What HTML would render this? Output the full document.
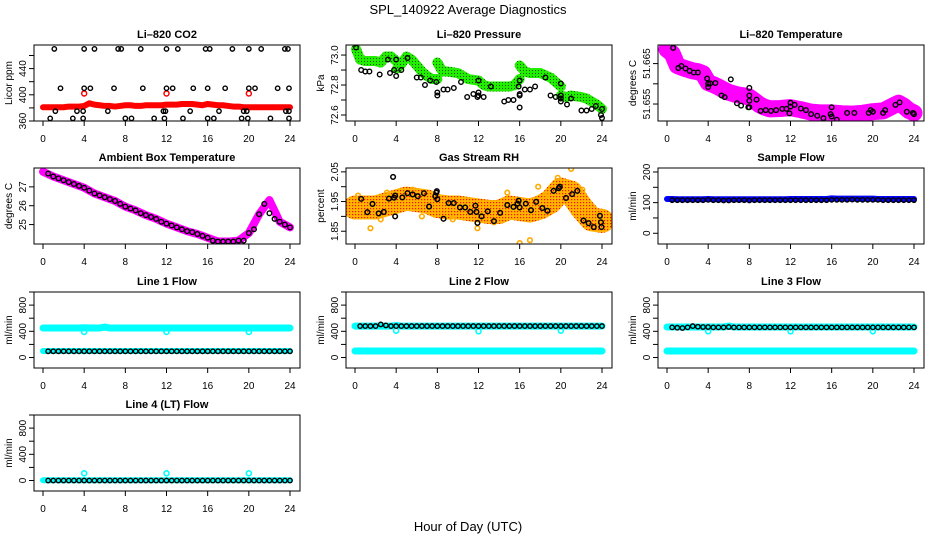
<!DOCTYPE html>
<html><head><meta charset="utf-8"><style>
html,body{margin:0;padding:0;background:#fff;}
svg{display:block;font-family:"Liberation Sans",Arial,sans-serif;}
</style></head><body>
<svg id="chart" width="936" height="540" viewBox="0 0 936 540" xmlns="http://www.w3.org/2000/svg">
<defs>
<pattern id="pgreen" width="3" height="3" patternUnits="userSpaceOnUse"><rect width="3" height="3" fill="#22ee00"/><rect x="1" y="1" width="1" height="1" fill="#115500"/></pattern>
<pattern id="porange" width="3" height="3" patternUnits="userSpaceOnUse"><rect width="3" height="3" fill="#ffb400"/><rect x="1" y="1" width="1.2" height="1.2" fill="#ff1000"/></pattern>
</defs>
<text x="468" y="14" font-size="13" text-anchor="middle">SPL_140922  Average Diagnostics</text>
<text x="468" y="531" font-size="13" text-anchor="middle">Hour of Day (UTC)</text>
</svg>
<script>
const H49=[0,0.5,1,1.5,2,2.5,3,3.5,4,4.5,5,5.5,6,6.5,7,7.5,8,8.5,9,9.5,10,10.5,11,11.5,12,12.5,13,13.5,14,14.5,15,15.5,16,16.5,17,17.5,18,18.5,19,19.5,20,20.5,21,21.5,22,22.5,23,23.5,24];
const H48=[0.5,1,1.5,2,2.5,3,3.5,4,4.5,5,5.5,6,6.5,7,7.5,8,8.5,9,9.5,10,10.5,11,11.5,12,12.5,13,13.5,14,14.5,15,15.5,16,16.5,17,17.5,18,18.5,19,19.5,20,20.5,21,21.5,22,22.5,23,23.5,24];
const H25=[0,1,2,3,4,5,6,7,8,9,10,11,12,13,14,15,16,17,18,19,20,21,22,23,24];
const xTicks=[0,4,8,12,16,20,24];

// CO2
const co2Red=[381,381,381,381,381,382,382,382,383,387,385,384,383,383,382,383,384,384,383,383,384,384,384,384,385,385,385,386,386,386,385,384,386,385,384,384,383,382,382,381,381,381,381,381,381,381,381,381,381];
const co2RedOutH=[4,12,20];
const co2RedOutV=[402,402,402];
const co2BlkH=[1.1,4,5,7.3,7.6,9.5,12,13.1,15.8,16.2,18.4,20,21.2,23.5,23.8, 1.7,4,4.6,6.9,9.7,12,12.6,14.6,16,17.7,20,20.6,22.8,23.9, 1.2,3.3,3.9,6.3,11.7,11.9,14.3,17.1,19.5,19.8,23.6,23.9, 0.7,2.9,3.9,8,8.6,10.8,11.8,13.6,16,16.6,19.3,19.9,22.1,23.9];
const co2BlkV=[470,470,470,470,470,470,470,470,470,470,470,470,470,470,470, 410,410,410,410,410,410,410,410,410,410,410,410,410,410, 375,375,375,375,375,375,375,375,375,375,375,375, 364,364,364,364,364,364,364,364,364,364,364,364,364,364];

// Pressure
const presGrnH=[0.1,0.5,1,1.5,2,2.5,3,3.5,4,null,4.1,4.5,5,5.5,6,6.5,7,7.5,8,null,8,8.5,9,10,10.5,11,12,12.5,13,14,15,15.5,16,null,16,16.5,17,18,19,19.5,20,null,20,20.5,21,22,22.5,23,23.5,24];
const presGrnV=[73.04,72.97,72.96,72.96,72.96,72.95,72.99,72.99,72.96,null,72.91,72.94,72.99,72.97,72.93,72.89,72.86,72.84,72.84,null,72.95,72.89,72.89,72.88,72.86,72.84,72.83,72.8,72.79,72.79,72.79,72.8,72.84,null,72.93,72.89,72.88,72.88,72.85,72.82,72.79,null,72.73,72.72,72.73,72.72,72.71,72.69,72.67,72.64];
const presBlkH=[0.1,0.6,1.0,1.4,2.4,3.2,3.4,3.8,4,4.0,4.5,5.1,6.0,6.4,6.8,7.3,7.9,8,8,8.6,9.0,9.6,10.3,10.9,11.5,11.9,12,12,12,12.5,13.2,14.5,14.9,15.4,15.9,16,16,16,16.0,16.5,17,17.5,18.5,19,19.5,20,20,20,20,20.6,21,22,22.5,23,23.4,24,23.9,24];
const presBlkV=[73.05,72.9,72.89,72.89,72.87,72.97,72.88,72.9,72.86,72.97,72.9,72.98,72.85,72.85,72.8,72.83,72.82,72.75,72.73,72.77,72.77,72.78,72.82,72.72,72.74,72.72,72.73,72.75,72.83,72.72,72.79,72.69,72.7,72.7,72.79,72.74,72.73,72.65,72.83,72.77,72.77,72.79,72.85,72.73,72.72,72.73,72.71,72.69,72.81,72.67,72.71,72.63,72.63,72.64,72.66,72.64,72.6,72.58];

// Li-820 temperature
const tmpMagH=[0,0.5,1,1.5,2,2.5,3,3.5,4,4.5,5,5.5,6,6.5,7,7.5,8,8.5,9,9.5,10,11,12,13,14,15,16,17,18,19,20,21,22,22.5,23,23.5,24];
const tmpMagV=[51.6685,51.6675,51.6645,51.6640,51.6636,51.6632,51.6630,51.6625,51.6603,51.6598,51.6592,51.6585,51.6579,51.6575,51.6572,51.6570,51.6567,51.6558,51.6548,51.6542,51.6538,51.6539,51.6541,51.6536,51.6530,51.6528,51.6528,51.6526,51.6525,51.6527,51.6531,51.6533,51.6546,51.6552,51.6545,51.6534,51.6528];
const tmpBlkH=[0.6,1.1,1.4,1.8,2.2,2.6,3,3.9,4,4,4.2,4.7,5.3,5.6,6.2,6.8,7.2,7.9,8,8,8,8,8.7,9.1,9.6,10.1,10.6,11.2,11.6,11.9,12,12,12.4,13,13.5,14,14.6,15.2,15.9,16,16,16.5,17.5,18.2,19.6,19.8,20,21,21.2,22.2,22.6,23.3,23.9,24];
const tmpBlkV=[51.6689,51.6639,51.6644,51.6638,51.6632,51.6628,51.6628,51.6613,51.6600,51.6592,51.6601,51.6602,51.6571,51.6567,51.6611,51.6552,51.6546,51.6542,51.6590,51.6571,51.6558,51.6542,51.6561,51.6533,51.6535,51.6533,51.6535,51.6538,51.6538,51.6527,51.6553,51.6544,51.6548,51.6539,51.6535,51.6525,51.6521,51.6515,51.6525,51.6519,51.6542,51.6511,51.6528,51.6528,51.6528,51.6535,51.6531,51.6528,51.6535,51.6548,51.6554,51.6531,51.6528,51.6525];

// Ambient box temperature
const ambMagV=[27.8,27.55,27.35,27.15,26.95,26.65,26.45,26.25,25.95,25.75,25.5,25.3,25.05,24.85,24.65,24.5,24.3,24.1,24.1,24.15,24.55,25.55,26.3,25.15,24.85];
const ambBlkV=[27.7,27.55,27.45,27.35,27.25,27.15,27.05,26.95,26.8,26.65,26.55,26.45,26.35,26.25,26.1,25.95,25.85,25.75,25.6,25.5,25.4,25.3,25.15,25.05,24.95,24.85,24.75,24.65,24.6,24.5,24.4,24.3,24.15,24.1,24.1,24.1,24.1,24.15,24.15,24.55,24.75,25.55,26.1,25.6,25.3,25.15,25.0,24.85];

// Gas stream RH
const rhCldV=[1.93,1.93,1.93,1.94,1.95,1.96,1.955,1.95,1.935,1.93,1.93,1.925,1.92,1.915,1.915,1.93,1.925,1.92,1.93,1.95,1.99,1.98,1.93,1.89,1.885];
const rhOutH=[1.5,3.1,5.6,11.9,14.8,16,17,17.8,19.7,21,22.1,0.3,2.5,6.5,9.5,13.5,18.5];
const rhOutV=[1.86,1.98,1.99,1.86,1.98,1.81,1.82,2.0,2.03,2.06,1.99,1.97,1.89,1.9,1.89,1.88,1.97];
const rhBlkH=[0.6,1.2,1.7,2.3,2.8,3.3,3.7,3.8,3.9,3.9,4.6,5.1,5.6,6.1,6.7,7.2,7.8,7.9,7.95,8,8.6,9.1,9.6,10.2,10.7,11.2,11.7,11.8,11.9,12.3,12.9,13.5,14.1,14.8,15.4,15.8,15.9,16,16.6,17.1,17.6,18.2,18.7,19.3,19.8,19.9,20.5,21.1,21.6,22.2,22.7,23.2,23.8,23.9,23.95];
const rhBlkV=[1.959,1.914,1.942,1.91,1.915,1.96,2.033,1.963,1.97,1.90,1.964,1.978,1.974,1.968,1.978,1.933,1.968,1.98,1.985,1.958,1.892,1.945,1.945,1.93,1.93,1.915,1.936,1.915,1.878,1.9,1.917,1.884,1.912,1.938,1.932,1.943,1.953,1.93,1.943,1.921,1.949,1.928,1.919,1.986,1.995,2.0,1.962,1.975,1.986,1.886,1.877,1.864,1.902,1.88,1.864];

// Sample flow
const sampBlueV=[112,112,111,111,111,111,111,111,112,111,111,111,111,111,111,111,111,111,111,111,111,111,111,111,112,112,112,112,112,112,112,112,114,113,113,113,113,113,113,113,113,112,112,112,112,112,112,112,112];
const sampBlkV=[108,108,108,108,108,108,108,109,108,108,107,107,108,108,108,107,108,108,108,108,108,108,108,108,108,108,108,108,108,108,108,109,109,109,109,110,109,109,109,109,109,108,108,108,108,108,108,108];

// Line flows
const l1CyanHiV=[450,450,450,450,450,450,450,450,455,450,450,450,465,450,450,450,450,450,450,450,450,450,450,450,450,450,450,450,450,450,450,450,450,450,450,450,450,450,450,450,450,450,450,450,450,450,450,450,450];
const l1CyanLoV=[100,100,100,100,100,100,100,100,100,100,100,100,100,100,100,100,100,100,100,100,100,100,100,100,100,100,100,100,100,100,100,100,100,100,100,100,100,100,100,100,100,100,100,100,100,100,100,100,100];
const l1BlkV=[95,95,95,95,95,95,95,95,95,95,95,95,95,95,95,95,95,95,95,95,95,95,95,95,95,95,95,95,95,95,95,95,95,95,95,95,95,95,95,95,95,95,95,95,95,95,95,95];
const l1DipH=[4,12,20];
const l1DipV=[390,390,390];

const l2CyanHiV=[480,480,480,480,480,480,480,480,490,480,480,480,480,480,480,480,480,480,480,480,480,480,480,480,480,480,480,480,480,480,480,480,480,480,480,480,480,480,480,480,480,480,480,480,480,480,480,480,480];
const l2CyanLoV=[100,100,100,100,100,100,100,100,100,100,100,100,100,100,100,100,100,100,100,100,100,100,100,100,100,100,100,100,100,100,100,100,100,100,100,100,100,100,100,100,100,100,100,100,100,100,100,100,100];
const l2BlkV=[480,480,480,480,505,490,480,480,480,480,480,480,480,480,480,480,480,480,480,480,480,480,480,480,480,480,480,480,480,480,480,480,480,480,480,480,480,480,480,480,480,480,480,480,480,480,480,480];
const l2DipH=[4,12,20];
const l2DipV=[410,400,410];

const l3CyanHiV=[465,465,465,465,465,465,465,465,465,465,465,465,480,465,465,465,465,465,465,465,465,465,465,465,465,465,465,465,465,465,465,465,465,465,465,465,465,465,465,465,465,465,465,465,465,465,465,465,465];
const l3CyanLoV=[100,100,100,100,100,100,100,100,100,100,100,100,100,100,100,100,100,100,100,100,100,100,100,100,100,100,100,100,100,100,100,100,100,100,100,100,100,100,100,100,100,100,100,100,100,100,100,100,100];
const l3BlkV=[460,455,450,460,480,470,465,465,460,460,460,465,460,460,460,460,460,460,460,460,460,460,460,460,460,460,460,460,460,460,460,460,460,460,460,460,460,460,460,460,460,460,460,460,460,460,460,460];
const l3DipH=[4,12,20];
const l3DipV=[400,400,400];

const l4CyanV=[5,5,5,5,5,5,5,5,5,5,5,5,5,5,5,5,5,5,5,5,5,5,5,5,5,5,5,5,5,5,5,5,5,5,5,5,5,5,5,5,5,5,5,5,5,5,5,5,5];
const l4BlkV=[0,0,0,0,0,0,0,0,0,0,0,0,0,0,0,0,0,0,0,0,0,0,0,0,0,0,0,0,0,0,0,0,0,0,0,0,0,0,0,0,0,0,0,0,0,0,0,0];
const l4SpikeH=[4,12,20];
const l4SpikeV=[110,110,110];

const NS="http://www.w3.org/2000/svg";
const svg=document.getElementById('chart');
const defs=svg.querySelector('defs');
const ROWTOP=[45,168,292,415];
let clipN=0;
function el(tag,attrs,parent){const e=document.createElementNS(NS,tag);for(const k in attrs)e.setAttribute(k,attrs[k]);parent.appendChild(e);return e;}

function panel(col,row,title,slug,ylim,ticks,labels,ylab,fmt){
  const off=col*312, top=ROWTOP[row], bot=top+76;
  const g=el('g',{},svg);
  
  
  const sx=h=>off+43+h*247/24;
  const sy=v=>bot-(v-ylim[0])/(ylim[1]-ylim[0])*76;
  const t=el('text',{x:off+167,y:top-7,'font-size':11,'font-weight':'bold','text-anchor':'middle'},g);
  t.textContent=title;
  
  
  const cid='clip'+(clipN++);
  const cp=el('clipPath',{id:cid},defs);
  el('rect',{x:off+34,y:top,width:266,height:76},cp);
  const data=el('g',{'clip-path':'url(#'+cid+')'},g);
  
  
  const box=el('rect',{x:off+34,y:top,width:266,height:76,fill:'none',stroke:'#000','stroke-width':1},g);
  
  
  xTicks.forEach(h=>{
    const tk=el('line',{x1:sx(h),x2:sx(h),y1:bot,y2:bot+5,stroke:'#000'},g);
    
    
    const tl=el('text',{x:sx(h),y:bot+21,'font-size':10,'text-anchor':'middle'},g);
    tl.textContent=h;
    
    
  });
  ticks.forEach(v=>{
    const tk=el('line',{x1:off+34,x2:off+29,y1:sy(v),y2:sy(v),stroke:'#000'},g);
    
    
  });
  labels.forEach(v=>{
    const x=off+26,y=sy(v);
    const tl=el('text',{x:x,y:y,'font-size':10,'text-anchor':'middle',transform:'rotate(-90 '+x+' '+y+')'},g);
    tl.textContent=fmt?fmt(v):v;
    
    
  });
  const yx=off+12,yy=(top+bot)/2;
  const yl=el('text',{x:yx,y:yy,'font-size':10,'text-anchor':'middle',transform:'rotate(-90 '+yx+' '+yy+')'},g);
  yl.textContent=ylab;
  
  
  return {sx,sy,g:data};
}
function pts(p,hs,vs,color,r,sw,name){
  hs.forEach((h,i)=>{
    const c=el('circle',{cx:p.sx(h),cy:p.sy(vs[i]),r:r,fill:'none',stroke:color,'stroke-width':sw},p.g);
    
    
  });
}
function band(p,hs,vs,color,w,name){
  let seg=[];
  const flush=()=>{ if(seg.length){
    const pl=el('polyline',{points:seg.join(' '),fill:'none',stroke:color,'stroke-width':w,'stroke-linejoin':'round','stroke-linecap':'round'},p.g);
    
    
    seg=[];}};
  hs.forEach((h,i)=>{ if(h===null||vs[i]===null){flush();} else seg.push(p.sx(h)+','+p.sy(vs[i])); });
  flush();
}

// Panel 1: CO2
let p=panel(0,0,'Li\u2013820 CO2','co2',[360,476],[360,380,400,420,440,460],[360,400,440],'Licor ppm');
band(p,H49,co2Red,'#ff0000',6,'co2-red-series');
pts(p,co2RedOutH,co2RedOutV,'#ff0000',2.5,1.5,'co2-red-point');
pts(p,co2BlkH,co2BlkV,'#000',2.2,1.4,'co2-black-point');

// Panel 2: Pressure
p=panel(1,0,'Li\u2013820 Pressure','pressure',[72.56,73.067],[72.6,72.7,72.8,72.9,73.0],[72.6,72.8,73.0],'kPa',v=>v.toFixed(1));
band(p,presGrnH,presGrnV,'url(#pgreen)',10,'pressure-green-series');
pts(p,presBlkH,presBlkV,'#000',2.3,1.4,'pressure-black-point');

// Panel 3: Li-820 Temperature
p=panel(2,0,'Li\u2013820 Temperature','li820-temp',[51.6508,51.6696],[51.655,51.66,51.665],[51.655,51.665],'degrees C',v=>v.toFixed(3));
band(p,tmpMagH,tmpMagV,'#ff00ff',17,'li820-temp-magenta-series');
pts(p,tmpBlkH,tmpBlkV,'#000',2.3,1.4,'li820-temp-black-point');

// Panel 4: Ambient
p=panel(0,1,'Ambient Box Temperature','ambient-temp',[23.97,28.0],[25,26,27],[25,26,27],'degrees C');
band(p,H25,ambMagV,'#ff00ff',8,'ambient-magenta-series');
pts(p,H48,ambBlkV,'#000',2.3,1.4,'ambient-black-point');

// Panel 5: RH
p=panel(1,1,'Gas Stream RH','gas-rh',[1.807,2.063],[1.85,1.9,1.95,2.0,2.05],[1.85,1.95,2.05],'percent',v=>v.toFixed(2));
band(p,H25,rhCldV,'url(#porange)',24,'gas-rh-orange-series');
pts(p,rhOutH,rhOutV,'#ffaa00',2.3,1.6,'gas-rh-orange-point');
pts(p,rhBlkH,rhBlkV,'#000',2.3,1.5,'gas-rh-black-point');

// Panel 6: Sample flow
p=panel(2,1,'Sample Flow','sample-flow',[-35,213],[0,50,100,150,200],[0,100,200],'ml/min');
band(p,H49,sampBlueV,'#0000ff',6,'sample-flow-blue-series');
pts(p,H48,sampBlkV,'#000',2.2,1.4,'sample-flow-black-point');

// Panel 7-9: Line flows
p=panel(0,2,'Line 1 Flow','line1-flow',[-160,1000],[0,200,400,600,800,1000],[0,400,800],'ml/min');
band(p,H49,l1CyanHiV,'#00ffff',7,'line1-cyan-high-series');
band(p,H49,l1CyanLoV,'#00ffff',6,'line1-cyan-low-series');
pts(p,l1DipH,l1DipV,'#00ffff',2.5,1.6,'line1-cyan-point');
pts(p,H48,l1BlkV,'#000',2.2,1.4,'line1-black-point');

p=panel(1,2,'Line 2 Flow','line2-flow',[-160,1000],[0,200,400,600,800,1000],[0,400,800],'ml/min');
band(p,H49,l2CyanHiV,'#00ffff',7,'line2-cyan-high-series');
band(p,H49,l2CyanLoV,'#00ffff',7,'line2-cyan-low-series');
pts(p,l2DipH,l2DipV,'#00ffff',2.5,1.6,'line2-cyan-point');
pts(p,H48,l2BlkV,'#000',2.2,1.4,'line2-black-point');

p=panel(2,2,'Line 3 Flow','line3-flow',[-160,1000],[0,200,400,600,800,1000],[0,400,800],'ml/min');
band(p,H49,l3CyanHiV,'#00ffff',7,'line3-cyan-high-series');
band(p,H49,l3CyanLoV,'#00ffff',7,'line3-cyan-low-series');
pts(p,l3DipH,l3DipV,'#00ffff',2.5,1.6,'line3-cyan-point');
pts(p,H48,l3BlkV,'#000',2.2,1.4,'line3-black-point');

p=panel(0,3,'Line 4 (LT) Flow','line4-flow',[-160,1000],[0,200,400,600,800,1000],[0,400,800],'ml/min');
band(p,H49,l4CyanV,'#00ffff',6,'line4-cyan-series');
pts(p,l4SpikeH,l4SpikeV,'#00ffff',2.5,1.6,'line4-cyan-point');
pts(p,H48,l4BlkV,'#000',2.2,1.4,'line4-black-point');
</script>
</body></html>
